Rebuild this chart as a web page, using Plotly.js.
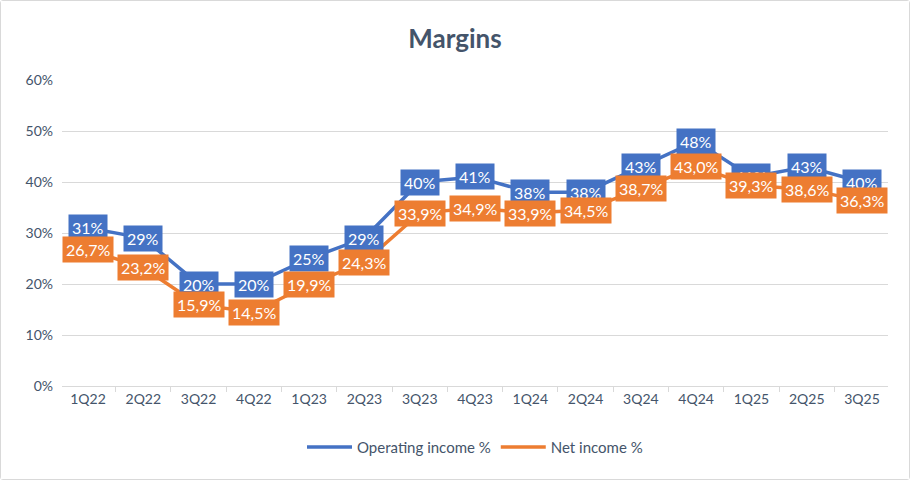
<!DOCTYPE html>
<html>
<head>
<meta charset="utf-8">
<script src="https://cdn.plot.ly/plotly-3.0.1.min.js"></script>
<style>
  html, body { margin: 0; padding: 0; background: #fff; }
  #chart { width: 908px; height: 478px; border: 1px solid #d9d9d9; border-radius: 3px; }
</style>
</head>
<body>
<div id="chart"></div>
<script>
// quarters and margin series (percent)
const quarters = ['1Q22', '2Q22', '3Q22', '4Q22', '1Q23', '2Q23', '3Q23', '4Q23',
                  '1Q24', '2Q24', '3Q24', '4Q24', '1Q25', '2Q25', '3Q25'];
const operating_pct = [31, 29, 20, 20, 25, 29, 40, 41, 38, 38, 43, 48, 41, 43, 40];
const net_pct = [26.7, 23.2, 15.9, 14.5, 19.9, 24.3, 33.9, 34.9, 33.9, 34.5, 38.7, 43.0, 39.3, 38.6, 36.3];
const y_ticks = [0, 10, 20, 30, 40, 50, 60];

const blue = '#4472C4';
const orange = '#ED7D31';
const font = 'Lato, "Open Sans", sans-serif';

// Excel-style boxed data labels, orange ones drawn last so they sit on top
const make_labels = function (values, color, fmt) {
    return values.map((v, i) => ({
        x: quarters[i],
        y: v,
        xref: 'x',
        yref: 'y',
        text: fmt(v),
        showarrow: false,
        bgcolor: color,
        borderpad: 3,
        font: { family: font, size: 16, color: '#fff' }
    }));
};

const traces = [
    {
        x: quarters, y: operating_pct, name: 'Operating income %',
        type: 'scatter', mode: 'lines',
        line: { color: blue, width: 3.5 }
    },
    {
        x: quarters, y: net_pct, name: 'Net income %',
        type: 'scatter', mode: 'lines',
        line: { color: orange, width: 3.5 }
    }
];

const annotations = make_labels(operating_pct, blue, v => `${v}%`)
    .concat(make_labels(net_pct, orange, v => `${v.toFixed(1).replace('.', ',')}%`));

const layout = {
    width: 908,
    height: 478,
    margin: { l: 61, r: 21, t: 79, b: 93 },
    paper_bgcolor: '#fff',
    plot_bgcolor: '#fff',
    title: {
        text: '<b>Margins</b>',
        x: 0.5, xanchor: 'center',
        y: 0.92, yanchor: 'middle',
        font: { family: font, size: 26, color: '#44546A' }
    },
    showlegend: true,
    legend: {
        orientation: 'h',
        x: 0.5, xanchor: 'center',
        y: -0.2, yanchor: 'middle',
        font: { family: font, size: 15, color: '#44546A' },
        itemwidth: 45
    },
    xaxis: {
        type: 'category',
        showgrid: false,
        showline: true,
        linecolor: '#d9d9d9',
        linewidth: 1,
        ticks: 'outside',
        ticklen: 5,
        tickcolor: '#d9d9d9',
        tickson: 'boundaries',
        tickfont: { family: font, size: 14, color: '#44546A' },
        fixedrange: true
    },
    yaxis: {
        range: [0, 60],
        tickvals: y_ticks,
        ticktext: y_ticks.map(t => `${t}%`),
        showgrid: true,
        gridcolor: '#d9d9d9',
        zeroline: false,
        showline: false,
        ticks: '',
        ticklabelstandoff: 8,
        tickfont: { family: font, size: 14, color: '#44546A' },
        fixedrange: true
    },
    annotations: annotations
};

Plotly.newPlot('chart', traces, layout, { displayModeBar: false, staticPlot: true });
</script>
</body>
</html>
